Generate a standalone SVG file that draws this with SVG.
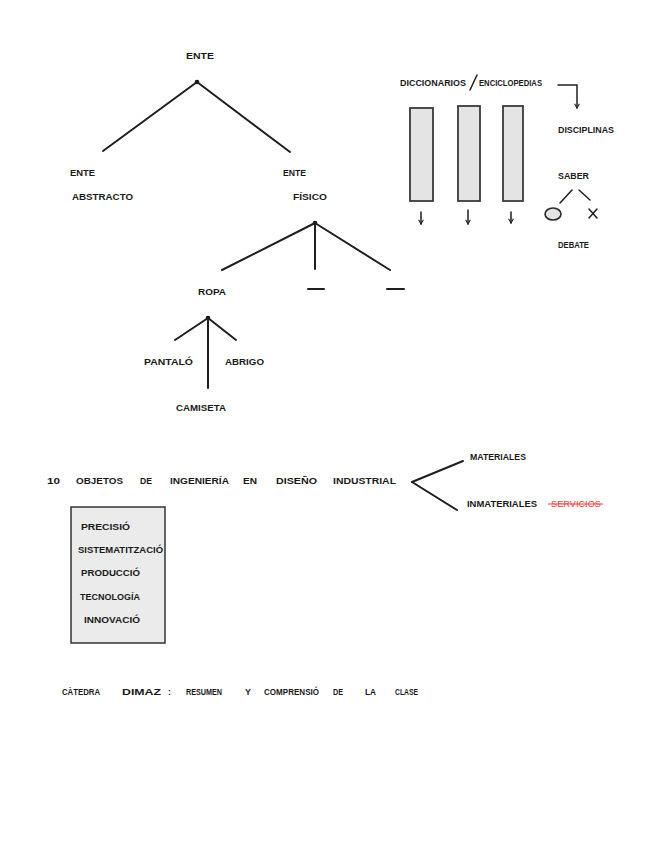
<svg xmlns="http://www.w3.org/2000/svg" width="656" height="848" viewBox="0 0 656 848">
<defs>
<style>
text{font-family:"Liberation Sans",Arial,sans-serif;font-size:9.5px;font-weight:bold;fill:#1a1a1a}
.ln{stroke:#1f1f1f;stroke-width:2;fill:none;stroke-linecap:round}
.thin{stroke:#1f1f1f;stroke-width:1.5;fill:none;stroke-linecap:round}
.bar{fill:#e4e4e4;stroke:#3a3a3a;stroke-width:1.8}
.red{fill:#f04040;font-weight:normal}
</style>
<marker id="ah" viewBox="0 0 10 10" refX="9" refY="5" markerWidth="6" markerHeight="6" orient="auto" markerUnits="userSpaceOnUse">
<path d="M2,1 L9,5 L2,9" fill="none" stroke="#1f1f1f" stroke-width="1.8"/>
</marker>
</defs>
<rect width="656" height="848" fill="#ffffff"/>

<g id="connectors">
<circle cx="197" cy="82" r="2.3" fill="#111"/>
<line class="ln" x1="197" y1="82" x2="103" y2="151"/>
<line class="ln" x1="197" y1="82" x2="290" y2="152"/>
<circle cx="315" cy="223" r="2.3" fill="#111"/>
<line class="ln" x1="315" y1="223" x2="222" y2="270"/>
<line class="ln" x1="315" y1="223" x2="315" y2="269"/>
<line class="ln" x1="315" y1="223" x2="390" y2="270"/>
<circle cx="208" cy="318" r="2.3" fill="#111"/>
<line class="ln" x1="208" y1="318" x2="175" y2="340"/>
<line class="ln" x1="208" y1="318" x2="208" y2="388"/>
<line class="ln" x1="208" y1="318" x2="236" y2="340"/>
<path class="thin" d="M558,85 L577,85 L577,108" marker-end="url(#ah)"/>
<line class="thin" x1="421" y1="212" x2="421" y2="224" marker-end="url(#ah)"/>
<line class="thin" x1="468" y1="210" x2="468" y2="224" marker-end="url(#ah)"/>
<line class="thin" x1="511" y1="212" x2="511" y2="223" marker-end="url(#ah)"/>
<line class="thin" x1="560" y1="203" x2="572" y2="190"/>
<line class="thin" x1="579" y1="190" x2="590" y2="200"/>
<line class="ln" x1="412" y1="482" x2="463" y2="461"/>
<line class="ln" x1="412" y1="482" x2="457" y2="510"/>
</g>

<g id="ente"><text x="186" y="59" textLength="28" lengthAdjust="spacingAndGlyphs">ENTE</text></g>
<g id="ente-abstracto">
<text x="70" y="176" textLength="25" lengthAdjust="spacingAndGlyphs">ENTE</text>
<text x="72" y="200" textLength="61" lengthAdjust="spacingAndGlyphs">ABSTRACTO</text>
</g>
<g id="ente-fisico">
<text x="283" y="176" textLength="23" lengthAdjust="spacingAndGlyphs">ENTE</text>
<text x="293" y="200" textLength="34" lengthAdjust="spacingAndGlyphs">FÍSICO</text>
</g>
<g id="ropa"><text x="198" y="295" textLength="28" lengthAdjust="spacingAndGlyphs">ROPA</text></g>
<g id="dash1"><line class="ln" x1="308" y1="289" x2="324" y2="289"/></g>
<g id="dash2"><line class="ln" x1="387" y1="289" x2="404" y2="289"/></g>
<g id="pantalo"><text x="144" y="365" textLength="49" lengthAdjust="spacingAndGlyphs">PANTALÓ</text></g>
<g id="abrigo"><text x="225" y="365" textLength="39" lengthAdjust="spacingAndGlyphs">ABRIGO</text></g>
<g id="camiseta"><text x="176" y="411" textLength="50" lengthAdjust="spacingAndGlyphs">CAMISETA</text></g>

<g id="diccionarios">
<text x="400" y="86" textLength="66" lengthAdjust="spacingAndGlyphs">DICCIONARIOS</text>
<line class="thin" x1="470" y1="90" x2="477" y2="75"/>
<text x="479" y="86" textLength="63" lengthAdjust="spacingAndGlyphs">ENCICLOPEDIAS</text>
</g>
<g id="bar1"><rect class="bar" x="410" y="108" width="23" height="93"/></g>
<g id="bar2"><rect class="bar" x="458" y="106" width="22" height="95"/></g>
<g id="bar3"><rect class="bar" x="503" y="106" width="20" height="95"/></g>
<g id="disciplinas"><text x="558" y="133" textLength="56" lengthAdjust="spacingAndGlyphs">DISCIPLINAS</text></g>
<g id="saber"><text x="558" y="179" textLength="31" lengthAdjust="spacingAndGlyphs">SABER</text></g>
<g id="circle-yes"><ellipse cx="553" cy="214" rx="8" ry="6" fill="#e4e4e4" stroke="#2a2a2a" stroke-width="1.6"/></g>
<g id="cross-no">
<line class="thin" x1="589" y1="209" x2="597" y2="218"/>
<line class="thin" x1="597" y1="209" x2="589" y2="218"/>
</g>
<g id="debate"><text x="558" y="248" textLength="31" lengthAdjust="spacingAndGlyphs">DEBATE</text></g>

<g id="objetos">
<text x="47" y="484" textLength="13" lengthAdjust="spacingAndGlyphs">10</text>
<text x="76" y="484" textLength="47" lengthAdjust="spacingAndGlyphs">OBJETOS</text>
<text x="140" y="484" textLength="12" lengthAdjust="spacingAndGlyphs">DE</text>
<text x="170" y="484" textLength="59" lengthAdjust="spacingAndGlyphs">INGENIERÍA</text>
<text x="243" y="484" textLength="14" lengthAdjust="spacingAndGlyphs">EN</text>
<text x="276" y="484" textLength="41" lengthAdjust="spacingAndGlyphs">DISEÑO</text>
<text x="333" y="484" textLength="63" lengthAdjust="spacingAndGlyphs">INDUSTRIAL</text>
</g>
<g id="materiales"><text x="470" y="460" textLength="56" lengthAdjust="spacingAndGlyphs">MATERIALES</text></g>
<g id="inmateriales"><text x="467" y="507" textLength="70" lengthAdjust="spacingAndGlyphs">INMATERIALES</text></g>
<g id="servicios">
<text class="red" x="551" y="507" textLength="50" lengthAdjust="spacingAndGlyphs">SERVICIOS</text>
<line x1="548" y1="504" x2="603" y2="504" stroke="#f04040" stroke-width="1.2"/>
</g>

<g id="lista">
<rect x="71" y="507" width="94" height="136" fill="#ebebeb" stroke="#333" stroke-width="1.5"/>
<text x="81" y="530" textLength="49" lengthAdjust="spacingAndGlyphs">PRECISIÓ</text>
<text x="78" y="553" textLength="85" lengthAdjust="spacingAndGlyphs">SISTEMATITZACIÓ</text>
<text x="81" y="576" textLength="59" lengthAdjust="spacingAndGlyphs">PRODUCCIÓ</text>
<text x="80" y="600" textLength="60" lengthAdjust="spacingAndGlyphs">TECNOLOGÍA</text>
<text x="84" y="623" textLength="56" lengthAdjust="spacingAndGlyphs">INNOVACIÓ</text>
</g>

<g id="catedra">
<text x="62" y="695" textLength="38" lengthAdjust="spacingAndGlyphs">CÀTEDRA</text>
<text x="122" y="695" textLength="39" lengthAdjust="spacingAndGlyphs">DIMAZ</text>
<text x="168" y="695" textLength="3" lengthAdjust="spacingAndGlyphs">:</text>
<text x="186" y="695" textLength="36" lengthAdjust="spacingAndGlyphs">RESUMEN</text>
<text x="245" y="695" textLength="6" lengthAdjust="spacingAndGlyphs">Y</text>
<text x="264" y="695" textLength="55" lengthAdjust="spacingAndGlyphs">COMPRENSIÓ</text>
<text x="333" y="695" textLength="10" lengthAdjust="spacingAndGlyphs">DE</text>
<text x="365" y="695" textLength="11" lengthAdjust="spacingAndGlyphs">LA</text>
<text x="395" y="695" textLength="23" lengthAdjust="spacingAndGlyphs">CLASE</text>
</g>
</svg>
